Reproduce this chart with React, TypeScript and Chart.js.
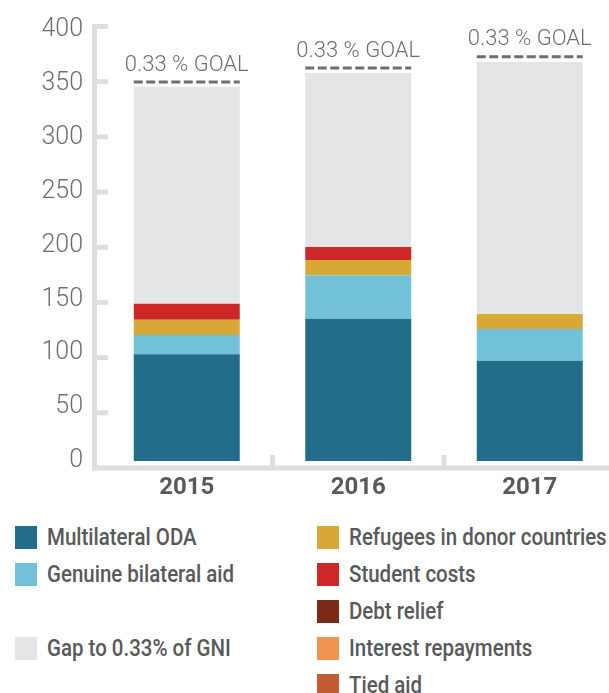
import React, { useEffect, useRef } from "react";
import { Chart, registerables } from "chart.js";

Chart.register(...registerables);

// ---------- data ----------
const years = ["2015", "2016", "2017"];
const multilateralODA = [99, 132, 93];
const genuineBilateralAid = [18, 40.5, 29.5];
const refugeesInDonorCountries = [14, 14, 14];
const studentCosts = [15, 12, 0];
const debtRelief = [0, 0, 0];
const interestRepayments = [0, 0, 0];
const tiedAid = [0, 0, 0];
const gapToGoal = [201, 161.5, 234];
const yTicks = [0, 50, 100, 150, 200, 250, 300, 350, 400];
const goalLabel = "0.33 % GOAL";

// ---------- styles ----------
const COLORS = {
  multilateral: "#226d89",
  bilateral: "#71c2d8",
  refugees: "#d8a836",
  student: "#cc2828",
  debt: "#7b2a18",
  interest: "#f39552",
  tied: "#c45c32",
  gap: "#e4e5e7",
};
const AXIS_COLOR = "#dddee0";
const TICK_TEXT = "#6d6e71";
const DARK_TEXT = "#58595b";

const seriesDefs = [
  { label: "Multilateral ODA", data: multilateralODA, color: COLORS.multilateral },
  { label: "Genuine bilateral aid", data: genuineBilateralAid, color: COLORS.bilateral },
  { label: "Refugees in donor countries", data: refugeesInDonorCountries, color: COLORS.refugees },
  { label: "Student costs", data: studentCosts, color: COLORS.student },
  { label: "Debt relief", data: debtRelief, color: COLORS.debt },
  { label: "Interest repayments", data: interestRepayments, color: COLORS.interest },
  { label: "Tied aid", data: tiedAid, color: COLORS.tied },
  { label: "Gap to 0.33% of GNI", data: gapToGoal, color: COLORS.gap },
];

const legendLeft = [
  { label: "Multilateral ODA", color: COLORS.multilateral },
  { label: "Genuine bilateral aid", color: COLORS.bilateral },
  null,
  { label: "Gap to 0.33% of GNI", color: COLORS.gap },
];
const legendRight = [
  { label: "Refugees in donor countries", color: COLORS.refugees },
  { label: "Student costs", color: COLORS.student },
  { label: "Debt relief", color: COLORS.debt },
  { label: "Interest repayments", color: COLORS.interest },
  { label: "Tied aid", color: COLORS.tied },
];

const axesPlugin = {
  id: "axesDecor",
  beforeDatasetsDraw(chart: any) {
    const { ctx, chartArea, scales } = chart;
    const yt = scales.yt;
    const x = scales.x;
    const axisX = chartArea.left - 9;
    const base = yt.getPixelForValue(0);
    const top = yt.getPixelForValue(400);
    ctx.save();
    ctx.fillStyle = AXIS_COLOR;
    ctx.fillRect(axisX, top - 2.5, 5, base - top + 5);
    yTicks.forEach((v) => {
      if (v === 0) return;
      const py = yt.getPixelForValue(v);
      ctx.fillRect(axisX + 5, py - 2.5, 11, 5);
    });
    ctx.fillRect(axisX, base - 2.5, chart.width - axisX, 5);
    for (let i = 0; i < years.length - 1; i++) {
      const px = (x.getPixelForValue(i) + x.getPixelForValue(i + 1)) / 2;
      ctx.fillRect(px - 2.5, base - 13, 5, 13);
    }
    ctx.restore();
  },
};

const goalPlugin = {
  id: "goalDecor",
  afterDatasetsDraw(chart: any) {
    const { ctx } = chart;
    const meta = chart.getDatasetMeta(seriesDefs.length - 1);
    ctx.save();
    meta.data.forEach((bar: any) => {
      const { x, y, width } = bar.getProps(["x", "y", "width"], true);
      const ly = y - 5;
      ctx.strokeStyle = "#6d6e71";
      ctx.lineWidth = 3;
      ctx.setLineDash([9, 3.5]);
      ctx.beginPath();
      ctx.moveTo(x - width / 2, ly);
      ctx.lineTo(x + width / 2, ly);
      ctx.stroke();
      ctx.setLineDash([]);
      ctx.fillStyle = TICK_TEXT;
      ctx.font = "300 22px Roboto";
      ctx.textAlign = "center";
      ctx.textBaseline = "middle";
      ctx.fillText(goalLabel, x, ly - 17);
    });
    ctx.restore();
  },
};

function LegendColumn({ items, left }: { items: any[]; left: number }) {
  return (
    <div style={{ position: "absolute", left, top: 0 }}>
      {items.map((it, i) => (
        <div key={i} style={{ height: 37, display: "flex", alignItems: "flex-start" }}>
          {it && (
            <>
              <div style={{ width: 22, height: 23, background: it.color, flex: "0 0 auto" }} />
              <div
                style={{
                  marginLeft: 10,
                  lineHeight: "23px",
                  fontFamily: "Roboto, sans-serif",
                  fontWeight: 500,
                  fontSize: 23,
                  color: DARK_TEXT,
                  whiteSpace: "nowrap",
                  transform: "scaleX(0.89)",
                  transformOrigin: "left center",
                }}
              >
                {it.label}
              </div>
            </>
          )}
        </div>
      ))}
    </div>
  );
}

export default function App() {
  const ref = useRef<HTMLCanvasElement | null>(null);

  useEffect(() => {
    if (!ref.current) return;
    const chart = new Chart(ref.current, {
      type: "bar",
      data: {
        labels: years,
        datasets: seriesDefs.map((s) => ({
          label: s.label,
          data: s.data,
          backgroundColor: s.color,
          borderWidth: 0,
          stack: "total",
          yAxisID: "y",
          barPercentage: 0.618,
          categoryPercentage: 1,
        })),
      },
      options: {
        responsive: false,
        animation: false,
        layout: { padding: { top: 26.5, right: 4.5, left: 0, bottom: 0 } },
        plugins: { legend: { display: false }, tooltip: { enabled: false } },
        scales: {
          x: {
            type: "category",
            stacked: true,
            offset: true,
            grid: { display: false, drawTicks: false },
            border: { display: false },
            ticks: {
              padding: 6,
              color: DARK_TEXT,
              font: { family: "Roboto", weight: "bold", size: 24 },
            },
            afterFit(s: any) {
              s.height = 42;
              s.paddingLeft = 0;
              s.paddingRight = 0;
            },
          },
          y: {
            type: "linear",
            stacked: true,
            position: "left",
            min: -6.5,
            max: 403.25,
            afterBuildTicks(s: any) {
              s.ticks = yTicks.map((v) => ({ value: v }));
            },
            grid: { display: false, drawTicks: false },
            border: { display: false },
            ticks: {
              padding: 18,
              color: TICK_TEXT,
              font: { family: "Roboto", weight: 300, size: 25 },
            },
            afterFit(s: any) {
              s.width = 101;
              s.paddingTop = 0;
              s.paddingBottom = 0;
            },
          },
          yt: {
            type: "linear",
            position: "left",
            min: 0,
            max: 400,
            display: false,
          },
        },
      } as any,
      plugins: [axesPlugin, goalPlugin],
    });
    return () => chart.destroy();
  }, []);

  return (
    <div
      style={{
        position: "absolute",
        left: 0,
        top: 0,
        width: 609,
        height: 693,
        overflow: "hidden",
        background: "#fff",
      }}
    >
      <canvas ref={ref} width={620} height={510} style={{ display: "block", width: 620, height: 510 }} />
      <div style={{ position: "absolute", left: 0, top: 526, width: 609 }}>
        <LegendColumn items={legendLeft} left={15} />
        <LegendColumn items={legendRight} left={317} />
      </div>
    </div>
  );
}
